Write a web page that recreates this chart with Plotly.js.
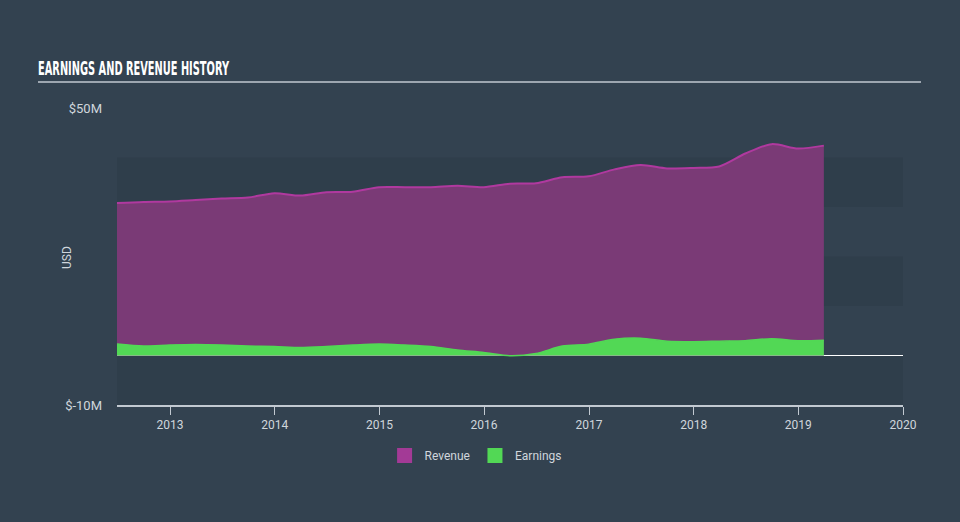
<!DOCTYPE html>
<html>
<head>
<meta charset="utf-8">
<script src="https://cdn.plot.ly/plotly-3.0.1.min.js"></script>
<style>
  html, body { margin: 0; padding: 0; background: #334250; }
  #chart { width: 960px; height: 522px; }
</style>
</head>
<body>
<div id="chart"></div>
<script>
const dates = [
  "2012-06-30","2012-09-30","2012-12-31","2013-03-31","2013-06-30","2013-09-30","2013-12-31",
  "2014-03-31","2014-06-30","2014-09-30","2014-12-31","2015-03-31","2015-06-30","2015-09-30",
  "2015-12-31","2016-03-31","2016-06-30","2016-09-30","2016-12-31","2017-03-31","2017-06-30",
  "2017-09-30","2017-12-31","2018-03-31","2018-06-30","2018-09-30","2018-12-31","2019-03-31"
];
const revenue = [
  30.8, 31.0, 31.1, 31.4, 31.7, 31.9, 32.8,
  32.3, 33.0, 33.1, 34.0, 34.0, 34.0, 34.3,
  34.0, 34.7, 34.8, 36.0, 36.2, 37.6, 38.5,
  37.8, 37.9, 38.2, 40.8, 42.7, 41.8, 42.4
];
const earnings = [
  2.3, 1.9, 2.1, 2.2, 2.1, 1.9, 1.8,
  1.6, 1.8, 2.1, 2.3, 2.1, 1.8, 1.1,
  0.6, -0.05, 0.4, 1.9, 2.3, 3.3, 3.5,
  2.9, 2.8, 2.9, 3.0, 3.4, 3.0, 3.1
];
const yTickVals = [-10, 50];
const yTickText = ["$-10M", "$50M"];
const xTickVals = ["2013-01-01","2014-01-01","2015-01-01","2016-01-01","2017-01-01","2018-01-01","2019-01-01","2020-01-01"];
const xTickText = ["2013","2014","2015","2016","2017","2018","2019","2020"];
const bandLows = [30, 10, -10];

const revColor = "#7a3a76";
const revLine = "#b0399f";
const earnColor = "#52d855";
const legendRevColor = "#a33a96";

const traces = [
  {
    x: dates, y: revenue, name: "Revenue", type: "scatter", mode: "lines",
    fill: "tozeroy", fillcolor: revColor, showlegend: false,
    line: { color: revLine, width: 2, shape: "spline", smoothing: 0.8 },
    hoverinfo: "skip"
  },
  {
    x: dates, y: earnings, name: "Earnings", type: "scatter", mode: "lines",
    fill: "tozeroy", fillcolor: earnColor, showlegend: false,
    line: { color: earnColor, width: 1.5, shape: "spline", smoothing: 0.8 },
    hoverinfo: "skip"
  },
  {
    x: [null], y: [null], name: "Revenue", type: "scatter", mode: "markers",
    marker: { symbol: "square", size: 15, color: legendRevColor }, hoverinfo: "skip"
  },
  {
    x: [null], y: [null], name: "Earnings", type: "scatter", mode: "markers",
    marker: { symbol: "square", size: 15, color: earnColor }, hoverinfo: "skip"
  }
];

const shapes = bandLows.map(lo => ({
  type: "rect", xref: "paper", yref: "y", x0: 0, x1: 1, y0: lo, y1: lo + 10,
  fillcolor: "rgba(20,30,40,0.1)", line: { width: 0 }, layer: "below"
}));
shapes.push({
  type: "line", xref: "paper", yref: "paper",
  x0: (38 - 117) / 786, x1: (921 - 117) / 786,
  y0: (405 - 82) / 297, y1: (405 - 82) / 297,
  line: { color: "#c2c9d1", width: 1.5 }
});

const layout = {
  width: 960, height: 522,
  margin: { l: 117, r: 57, t: 108, b: 117 },
  paper_bgcolor: "#334250",
  plot_bgcolor: "rgba(0,0,0,0)",
  showlegend: true,
  title: {
    text: "<b>EARNINGS AND REVENUE HISTORY</b>",
    x: 38 / 960, xanchor: "left", xref: "container",
    y: 1 - 68 / 522, yanchor: "middle", yref: "container",
    font: { family: "Liberation Sans Narrow, DejaVu Sans Condensed, sans-serif", size: 19, color: "#ffffff" }
  },
  xaxis: {
    type: "date",
    range: ["2012-06-30", "2020-01-01"],
    tickvals: xTickVals, ticktext: xTickText,
    ticks: "outside", ticklen: 8, tickcolor: "#c2c9d1", tickwidth: 1,
    showline: true, linecolor: "#c2c9d1", linewidth: 1.5,
    showgrid: false, zeroline: false,
    tickfont: { family: "Roboto, sans-serif", size: 12, color: "#d0d6dc" },
    fixedrange: true
  },
  yaxis: {
    range: [-10, 50],
    tickvals: yTickVals, ticktext: yTickText,
    ticks: "", showline: false, showgrid: false,
    zeroline: true, zerolinecolor: "#ffffff", zerolinewidth: 1.5,
    ticklabelstandoff: 14,
    tickfont: { family: "Roboto, sans-serif", size: 13, color: "#d0d6dc" },
    fixedrange: true
  },
  annotations: [{
    text: "USD", textangle: -90, xref: "paper", yref: "paper",
    x: (67 - 117) / 786, y: (405 - 258) / 297, xanchor: "center", yanchor: "middle",
    showarrow: false, font: { family: "Roboto, sans-serif", size: 12, color: "#d0d6dc" }
  }],
  legend: {
    orientation: "h", x: 0.4562, xanchor: "center", y: -0.17, yanchor: "middle",
    font: { family: "Roboto, sans-serif", size: 12, color: "#d0d6dc" },
    bgcolor: "rgba(0,0,0,0)", itemwidth: 30
  },
  shapes: shapes
};

Plotly.newPlot("chart", traces, layout, { displayModeBar: false, staticPlot: true }).then(() => {
  const t = document.querySelector("#chart .gtitle");
  if (t) {
    t.setAttribute("textLength", "191");
    t.setAttribute("lengthAdjust", "spacingAndGlyphs");
  }
});
</script>
</body>
</html>
